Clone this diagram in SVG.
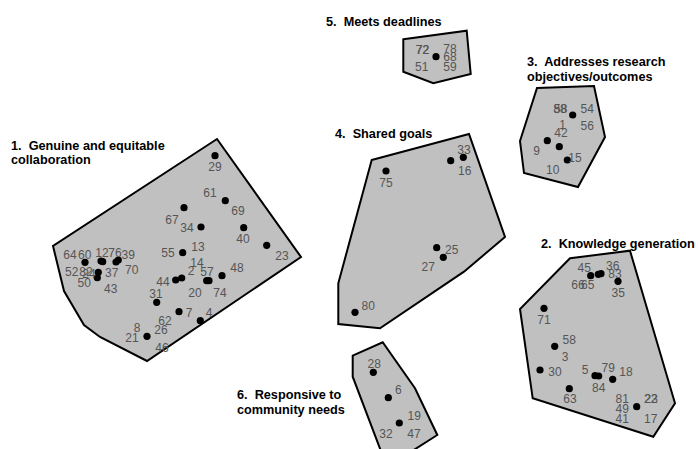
<svg xmlns="http://www.w3.org/2000/svg" width="698" height="449" viewBox="0 0 698 449">
<style>
.poly{fill:#c0c0c0;stroke:#000;stroke-width:2;stroke-linejoin:miter}
.dot{fill:#000}
.num{font-family:"Liberation Sans",Arial,sans-serif;font-size:12px;fill:#555;text-anchor:middle}
.title{font-family:"Liberation Sans",Arial,sans-serif;font-size:12.7px;font-weight:bold;fill:#000;white-space:pre}
</style>
<rect width="698" height="449" fill="#fff"/>
<g id="cluster1">
<polygon class="poly" points="217,139 301,257 147,361 100,337 84,325 64,291 53,246"/>
<g class="dot">
<circle cx="215" cy="155.7" r="3.6"/><circle cx="225.3" cy="200.7" r="3.6"/><circle cx="184" cy="207.7" r="3.6"/>
<circle cx="201" cy="227" r="3.6"/><circle cx="243.7" cy="227.7" r="3.6"/><circle cx="266.7" cy="245.3" r="3.6"/>
<circle cx="182.7" cy="252.7" r="3.6"/><circle cx="175.7" cy="280" r="3.6"/><circle cx="181.7" cy="278" r="3.6"/>
<circle cx="206.7" cy="280.7" r="3.6"/><circle cx="209" cy="280.7" r="3.6"/><circle cx="222" cy="275.7" r="3.6"/>
<circle cx="156.7" cy="302.3" r="3.6"/><circle cx="179" cy="311.7" r="3.6"/><circle cx="200.3" cy="320.7" r="3.6"/>
<circle cx="147" cy="336.3" r="3.6"/><circle cx="85" cy="262.3" r="3.6"/><circle cx="101" cy="261" r="3.6"/>
<circle cx="102.7" cy="261.7" r="3.6"/><circle cx="116" cy="262" r="3.6"/><circle cx="118.3" cy="260" r="3.6"/>
<circle cx="98.3" cy="272.3" r="3.6"/><circle cx="97.3" cy="277.7" r="3.6"/>
</g>
<g class="num">
<text x="215" y="171.3">29</text><text x="210" y="197.3">61</text><text x="238" y="215.3">69</text>
<text x="172" y="224.3">67</text><text x="187" y="232.3">34</text><text x="243" y="243.3">40</text>
<text x="282" y="260.3">23</text><text x="198" y="251.3">13</text><text x="168" y="257.3">55</text>
<text x="197" y="267.3">14</text><text x="191" y="275.3">2</text><text x="163" y="286.3">44</text>
<text x="207" y="276.3">57</text><text x="237" y="272.3">48</text><text x="195" y="297.3">20</text>
<text x="220" y="297.3">74</text><text x="156" y="298.3">31</text><text x="189" y="317.3">7</text>
<text x="209" y="317.3">4</text><text x="165" y="325.3">62</text><text x="161" y="334.3">26</text>
<text x="137" y="332.3">8</text><text x="132" y="342.3">21</text><text x="162" y="352.3">46</text>
<text x="70" y="259.3">64</text><text x="84.7" y="259.3">60</text><text x="102" y="257.3">12</text>
<text x="115" y="257.3">76</text><text x="128.3" y="259.3">39</text><text x="71.7" y="276.3">52</text>
<text x="86" y="276">82</text><text x="89" y="278">24</text><text x="111.7" y="277">37</text>
<text x="131.7" y="274.3">70</text><text x="84.3" y="287">50</text><text x="110.7" y="293.3">43</text>
</g>
<text class="title" x="11" y="150">1.  Genuine and equitable</text>
<text class="title" x="11" y="164">collaboration</text>
</g>
<g id="cluster2">
<polygon class="poly" points="570,258.3 630,250.7 675,403.3 653.3,436.7 532.7,398.3 520,309"/>
<g class="dot">
<circle cx="590.7" cy="275.7" r="3.6"/><circle cx="598.3" cy="274.3" r="3.6"/><circle cx="601" cy="273.7" r="3.6"/>
<circle cx="618" cy="281.3" r="3.6"/><circle cx="544" cy="308.3" r="3.6"/><circle cx="554.7" cy="346.3" r="3.6"/>
<circle cx="540" cy="370" r="3.6"/><circle cx="595" cy="375.7" r="3.6"/><circle cx="598.7" cy="376" r="3.6"/>
<circle cx="612.7" cy="379.3" r="3.6"/><circle cx="569.3" cy="388.7" r="3.6"/><circle cx="636.7" cy="406.7" r="3.6"/>
</g>
<g class="num">
<text x="584.3" y="272">45</text><text x="612.7" y="270">36</text><text x="615" y="277.6">83</text>
<text x="578" y="289.3">66</text><text x="587.8" y="289.3">65</text><text x="618.3" y="296.6">35</text>
<text x="544" y="324.3">71</text><text x="569.3" y="343.6">58</text><text x="565" y="361">3</text>
<text x="555" y="376">30</text><text x="585" y="373.6">5</text><text x="608.3" y="372">79</text>
<text x="626" y="376">18</text><text x="598.7" y="392">84</text><text x="570" y="403.3">63</text>
<text x="622.3" y="402.6">81</text><text x="622.3" y="412.6">49</text><text x="622.3" y="422.6">41</text>
<text x="650.7" y="402.6">22</text><text x="651.2" y="402.6">23</text><text x="650.7" y="423">17</text>
</g>
<text class="title" x="541" y="247.5">2.  Knowledge generation</text>
</g>
<g id="cluster3">
<polygon class="poly" points="537,88 594,86 605,137 578,187 524,173 520,141"/>
<g class="dot">
<circle cx="572.7" cy="115" r="3.6"/><circle cx="547.3" cy="140.7" r="3.6"/>
<circle cx="559.3" cy="146.7" r="3.6"/><circle cx="567.3" cy="160" r="3.6"/>
</g>
<g class="num">
<text x="560" y="112.6">88</text><text x="560.8" y="112.6">58</text><text x="587.3" y="112.6">54</text>
<text x="562.7" y="128.6">1</text><text x="587.3" y="130">56</text><text x="561" y="137">42</text>
<text x="536.7" y="155.3">9</text><text x="575" y="162">15</text><text x="552.7" y="174.3">10</text>
</g>
<text class="title" x="527" y="66">3.  Addresses research</text>
<text class="title" x="527" y="80.5">objectives/outcomes</text>
</g>
<g id="cluster4">
<polygon class="poly" points="371.7,160 469,134 505,237 464,271.7 380,328.3 338.3,324 338.3,283.3"/>
<g class="dot">
<circle cx="386" cy="171" r="3.6"/><circle cx="450.7" cy="160.7" r="3.6"/><circle cx="463.3" cy="157.3" r="3.6"/>
<circle cx="436.7" cy="247.7" r="3.6"/><circle cx="443.3" cy="257.3" r="3.6"/><circle cx="355" cy="312.3" r="3.6"/>
</g>
<g class="num">
<text x="386" y="187">75</text><text x="464" y="153.6">33</text><text x="464.7" y="175.3">16</text>
<text x="451.7" y="254.3">25</text><text x="428.3" y="271">27</text><text x="368.3" y="310">80</text>
</g>
<text class="title" x="335" y="138">4.  Shared goals</text>
</g>
<g id="cluster5">
<polygon class="poly" points="403.3,39.3 466.7,30.7 470.7,74 433.3,83.3 403.3,71.7"/>
<circle class="dot" cx="436" cy="56.7" r="3.6"/>
<g class="num">
<text x="422.3" y="53.6">72</text><text x="422.8" y="53.6">72</text><text x="450" y="52.6">78</text>
<text x="450" y="61">68</text><text x="450" y="71">59</text><text x="421.7" y="71">51</text>
</g>
<text class="title" x="326" y="26.4">5.  Meets deadlines</text>
</g>
<g id="cluster6">
<polygon class="poly" points="352.7,355.7 382.7,342.3 415,388.3 437.3,435 387,467 352.7,376.7"/>
<g class="dot">
<circle cx="373.3" cy="372.3" r="3.6"/><circle cx="388.3" cy="397.7" r="3.6"/><circle cx="399.3" cy="423" r="3.6"/>
</g>
<g class="num">
<text x="374.3" y="367.6">28</text><text x="398.3" y="394.3">6</text><text x="414.3" y="420">19</text>
<text x="386" y="438.3">32</text><text x="414" y="438.3">47</text>
</g>
<text class="title" x="237" y="398.5">6.  Responsive to</text>
<text class="title" x="237" y="414">community needs</text>
</g>
<g id="connectors"/>
</svg>
